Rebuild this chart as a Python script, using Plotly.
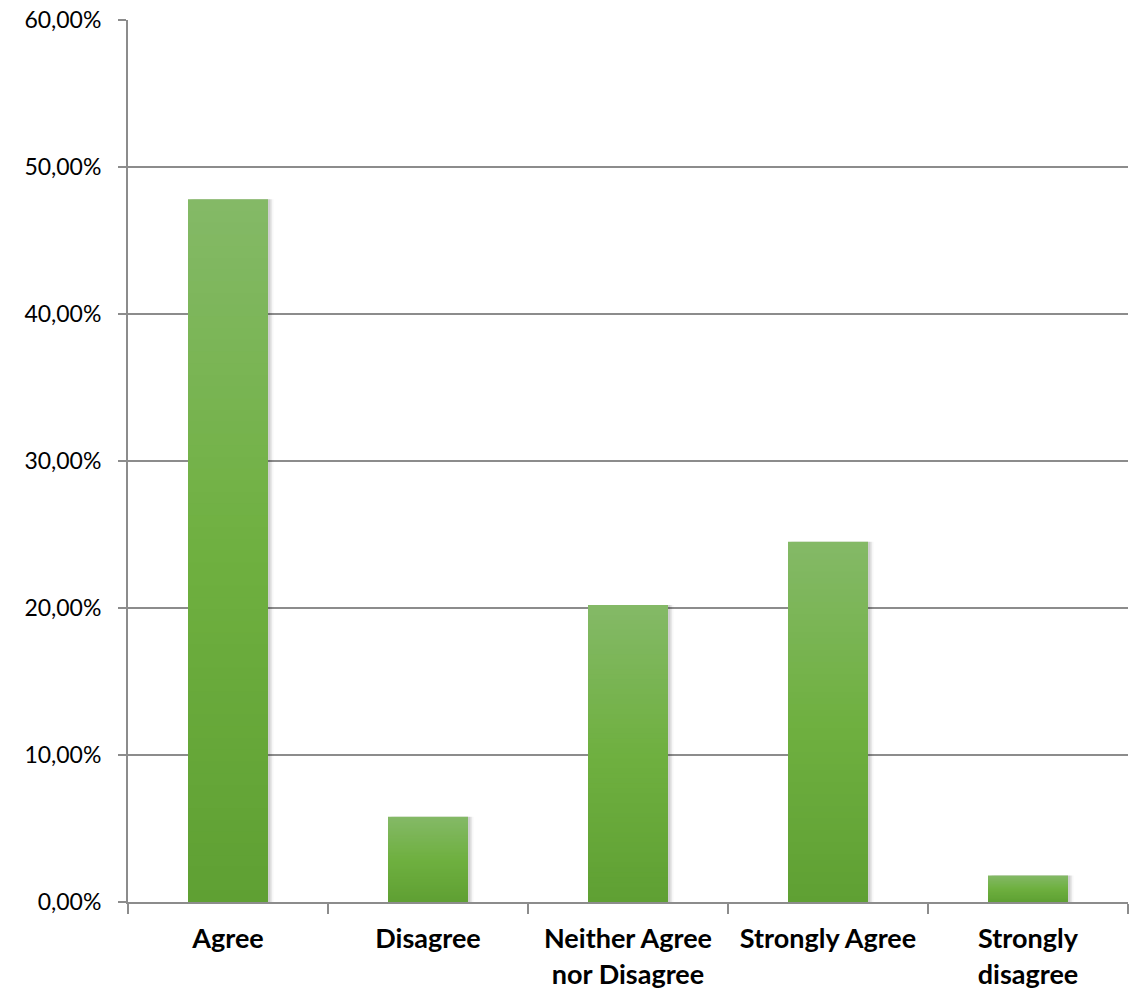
import plotly.graph_objects as go

# Survey responses (share of respondents)
categories = ["Agree", "Disagree", "Neither Agree<br>nor Disagree", "Strongly Agree", "Strongly<br>disagree"]
shares = [0.478, 0.058, 0.202, 0.245, 0.018]

# vertical gradient stops for the bars: (position from bottom, rgb)
grad_stops = [(0.0, (95, 160, 51)), (0.5, (111, 176, 64)), (1.0, (132, 185, 103))]
N_STEPS = 60


def grad_color(t):
    for (p0, c0), (p1, c1) in zip(grad_stops[:-1], grad_stops[1:]):
        if p0 <= t <= p1:
            f = (t - p0) / (p1 - p0)
            r, g, b = (round(a + (bb - a) * f) for a, bb in zip(c0, c1))
            return f"rgb({r},{g},{b})"
    return "rgb(%d,%d,%d)" % grad_stops[-1][1]


fig = go.Figure()

# soft drop shadow to the right of each bar
for dx, alpha in [(0.012, 0.10), (0.02, 0.06), (0.028, 0.03)]:
    fig.add_trace(go.Bar(
        x=categories, y=shares, width=0.4, offset=-0.2 + dx,
        marker=dict(color=f"rgba(0,0,0,{alpha})", line_width=0),
        hoverinfo="skip", showlegend=False,
    ))

# bars: full-height lightest layer, then progressively shorter, darker layers
for k in range(N_STEPS):
    frac = 1 - k / N_STEPS
    t = frac - 0.5 / N_STEPS
    fig.add_trace(go.Bar(
        x=categories, y=[v * frac for v in shares], width=0.4,
        marker=dict(color=grad_color(t), line_width=0),
        hoverinfo="skip" if k else None, showlegend=False,
    ))

grid_col = "#8c8c8c"
fig.update_layout(
    barmode="overlay",
    width=1133, height=996,
    margin=dict(l=128, r=5, t=16, b=94),
    paper_bgcolor="white", plot_bgcolor="white",
    separators=", ",
    font=dict(family="Lato, 'Open Sans', sans-serif", color="black"),
    xaxis=dict(
        type="category", tickson="boundaries",
        ticks="outside", ticklen=10, tickwidth=2, tickcolor=grid_col,
        showline=True, linecolor=grid_col, linewidth=2,
        showgrid=False,
        tickfont=dict(size=27, family="Lato, 'Open Sans', sans-serif", weight="bold"),
        ticklabelstandoff=12,
    ),
    yaxis=dict(
        range=[0, 0.6], dtick=0.1, tickformat=".2%",
        ticks="outside", ticklen=8, tickwidth=2, tickcolor=grid_col,
        showline=True, linecolor=grid_col, linewidth=2,
        showgrid=True, gridcolor=grid_col, gridwidth=2,
        zeroline=False,
        tickfont=dict(size=23),
        ticklabelstandoff=12,
    ),
)

fig.write_html("out.html")
